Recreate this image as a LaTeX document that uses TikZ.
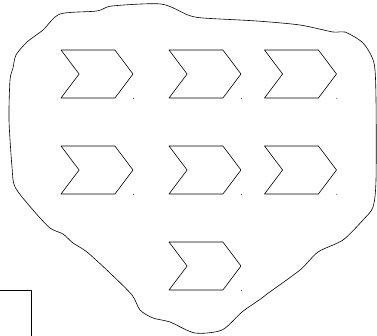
\documentclass[tikz,border=0pt]{standalone}
\usepackage{tikz}
\usetikzlibrary{shapes.symbols,positioning}

\tikzset{
  chevron/.style={draw, shape=signal, signal from=west, signal to=east,
    signal pointer angle=106, minimum width=72pt, minimum height=48pt,
    inner sep=0pt, line width=0.6pt},
  dotmark/.style={circle, fill, inner sep=0pt, minimum size=1pt}
}

\begin{document}
\begin{tikzpicture}[x=1pt, y=-1pt, line join=round]
  \useasboundingbox (0,0) rectangle (377,335);
  \clip (0,0) rectangle (377,335);
  % outline
  \draw[line width=0.6pt] plot[smooth cycle, tension=0.45] coordinates {
    (60,14) (97,11) (112,6) (161,4) (188,15) (203,18) (257,21) (300,25)
    (333,32) (345,32) (363,43) (374,63) (376,100) (376,180) (373,207)
    (363,220) (343,240) (318,252) (300,270) (267,294) (262,298) (242,312)
    (222,330) (195,333) (170,322) (153,318) (140,310) (132,295) (110,273)
    (87,252) (73,243) (63,234) (50,228) (33,210) (15,187) (12,167)
    (9,120) (10,80) (13,68) (16,55) (27,42) (43,30)};
  % chevrons
  \node[chevron] (c11) at (97,74) {};
  \node[chevron] (c12) at (205,74) {};
  \node[chevron] (c13) at (300.5,74) {};
  \node[chevron] (c21) at (97,170) {};
  \node[chevron] (c22) at (205,170) {};
  \node[chevron] (c23) at (300.5,170) {};
  \node[chevron] (c32) at (205,266) {};
  \foreach \c in {c11,c12,c13,c21,c22,c23,c32}
    \node[dotmark] at (\c.east |- \c.south) {};
  % corner box
  \node[draw, line width=0.8pt, minimum width=60pt, minimum height=60pt,
        anchor=north east] (box) at (31.5,290) {};
\end{tikzpicture}
\end{document}
